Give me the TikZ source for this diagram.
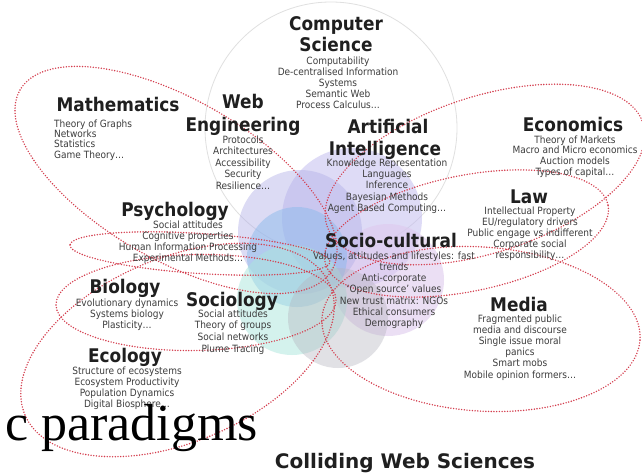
\documentclass[tikz,border=0pt]{standalone}
\usepackage{fontspec}
\setsansfont{DejaVu Sans Condensed}
\newfontfamily\widesans{DejaVu Sans}
\newfontfamily\slideserif{Liberation Serif}
\usetikzlibrary{calc}
\definecolor{dotred}{RGB}{212,62,78}
\definecolor{lavA}{RGB}{196,190,240}
\definecolor{lavB}{RGB}{222,202,238}
\definecolor{lavC}{RGB}{178,176,232}
\definecolor{bluA}{RGB}{140,186,236}
\definecolor{cyaA}{RGB}{170,230,220}
\definecolor{gryA}{RGB}{180,180,190}
\newcommand\dotell[5]{%
 \pgfmathsetmacro\ecx{(#1+#3)/2}\pgfmathsetmacro\ecy{(#2+#4)/2}%
 \pgfmathsetmacro\eang{atan2(-(#4-#2),#3-#1)}%
 \pgfmathsetmacro\ea{veclen(#3-#1,#4-#2)/2}%
 \draw[dl, shift={(\ecx,\ecy)}, rotate=\eang] (0,0) ellipse [x radius=\ea pt, y radius=#5 pt];}
\newcommand\sublines[6]{% name, anchor, x, first baseline, skip, list
 \foreach \t [count=\i from 0] in {#6}
  \node[sub, anchor=#2] (#1-\i) at (#3,{#4+\i*#5}) {\t};}
\begin{document}
\begin{tikzpicture}[x=1pt,y=-1pt,
 title/.style={font=\sffamily\bfseries\fontsize{18.8}{22}\selectfont, text=black!88, inner sep=0pt, anchor=base},
 sub/.style={font=\sffamily\fontsize{10}{11}\selectfont, text=black!76, inner sep=0pt},
 dl/.style={draw=dotred, line width=1.6pt, line cap=round, dash pattern=on 0pt off 2.7pt},
 circ/.style={fill opacity=#1, draw=none}]
\useasboundingbox (0,0) rectangle (642,474);
\clip (0,0) rectangle (642,474);
\fill[white] (0,0) rectangle (642,474);
% circles
\fill[white] (331,128) circle[radius=126pt];
\draw[black!12, line width=0.8pt] (331,128) circle[radius=126pt];
\fill[lavA, circ=.55] (352,218) circle[radius=70pt];
\fill[lavB, circ=.6] (388,280) circle[radius=56pt];
\fill[lavC, circ=.45] (300,232) circle[radius=62pt];
\fill[bluA, circ=.5] (297,257) circle[radius=50pt];
\fill[cyaA, circ=.5] (292,300) circle[radius=55pt];
\fill[gryA, circ=.4] (338,318) circle[radius=50pt];
% ellipses
\dotell{332}{270}{20}{90}{80}
\dotell{330}{262}{70}{245}{20}
\dotell{336}{300}{56}{305}{48}
\dotell{330}{285}{25}{415}{92}
\dotell{327}{226}{643}{123}{78}
\dotell{325}{262}{608}{205}{58}
\dotell{322}{318}{640}{340}{82}
% titles
\node[title] (cs1) at (336,30) {Computer};
\node[title] (cs2) at (336,51) {Science};
\node[title] (math) at (118,111) {Mathematics};
\node[title] (web1) at (243,108) {Web};
\node[title] (web2) at (243,131) {Engineering};
\node[title] (ai1) at (388,133) {Artificial};
\node[title] (ai2) at (385,155) {Intelligence};
\node[title] (eco) at (573,131) {Economics};
\node[title] (law) at (529,203) {Law};
\node[title] (psy) at (175,216) {Psychology};
\node[title] (soc) at (391,247) {Socio-cultural};
\node[title] (bio) at (125,293) {Biology};
\node[title] (sgy) at (232,306) {Sociology};
\node[title] (med) at (519,311) {Media};
\node[title] (ecl) at (125,362) {Ecology};
% sub texts
\sublines{csl}{base}{338}{64.5}{11}{Computability,De-centralised Information,Systems,Semantic Web,Process Calculus…}
\sublines{mal}{base west}{54}{127}{10.4}{Theory of Graphs,Networks,Statistics,Game Theory…}
\sublines{wel}{base}{243}{143}{11.5}{Protocols,Architectures,Accessibility,Security,Resilience…}
\sublines{ail}{base}{387}{166}{11.4}{Knowledge Representation,Languages,Inference,Bayesian Methods,Agent Based Computing…}
\sublines{ecl}{base}{575}{143}{10.7}{Theory of Markets,Macro and Micro economics,Auction models,Types of capital…}
\sublines{lal}{base}{530}{214}{11.2}{Intellectual Property,EU/regulatory drivers,Public engage vs indifferent,Corporate social,responsibility…}
\sublines{psl}{base}{188}{228}{11.3}{Social attitudes,Cognitive properties,Human Information Processing,Experimental Methods…}
\sublines{sol}{base}{394}{259}{11.3}{{Values, attitudes and lifestyles: fast},trends,Anti-corporate,`Open source' values,New trust matrix: NGOs,Ethical consumers,Demography}
\sublines{bil}{base}{127}{306}{11}{Evolutionary dynamics,Systems biology,Plasticity…}
\sublines{sgl}{base}{233}{317}{11.7}{Social attitudes,Theory of groups,Social networks,Plume Tracing}
\sublines{mel}{base}{520}{322}{11.2}{Fragmented public,media and discourse,Single issue moral,panics,Smart mobs,Mobile opinion formers…}
\sublines{ecol}{base}{127}{374}{11}{Structure of ecosystems,Ecosystem Productivity,Population Dynamics,Digital Biosphere…}
% slide texts
\node[font=\slideserif\fontsize{52}{52}\selectfont, inner sep=0pt, anchor=base east] (par) at (258,440) {c paradigms};
\node[font=\widesans\bfseries\fontsize{20}{22}\selectfont, text=black!88, inner sep=0pt, anchor=base] (cws) at (405,468) {Colliding Web Sciences};
\end{tikzpicture}
\end{document}
